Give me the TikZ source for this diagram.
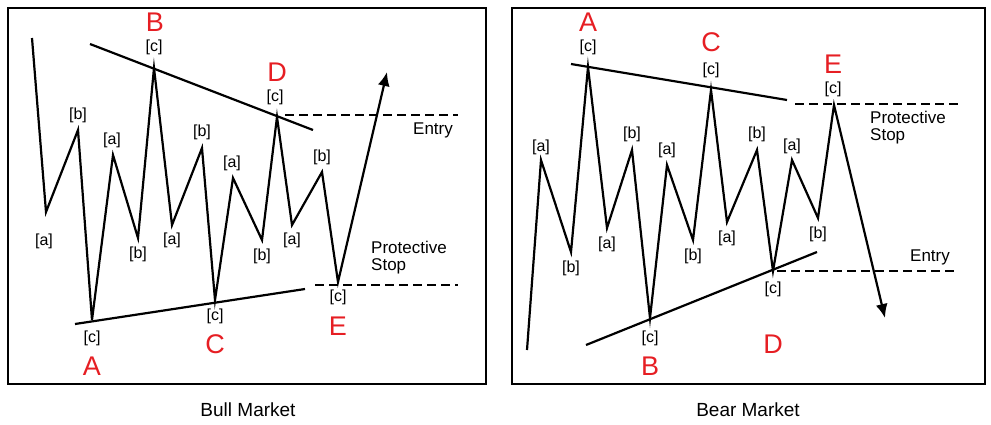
\documentclass[tikz,border=0pt]{standalone}
\usepackage{fontspec}
\setmainfont{Liberation Sans}
\usetikzlibrary{arrows.meta}
\definecolor{lred}{RGB}{230,30,35}
\begin{document}
\begin{tikzpicture}[x=1pt,y=-1pt,
  wave/.style={line width=2.2pt,line join=miter},
  trend/.style={line width=2.2pt},
  dline/.style={line width=2pt,dash pattern=on 9pt off 5pt},
  lab/.style={font=\fontsize{16}{16}\selectfont,inner sep=0pt},
  big/.style={font=\fontsize{27}{27}\selectfont,text=lred,inner sep=0pt},
  txt/.style={font=\fontsize{17}{17}\selectfont,inner sep=0pt,align=left},
  frame/.style={line width=2.2pt}]
\useasboundingbox (0,0) rectangle (991,424);
\draw[frame] (8,8) rectangle (486,384);
\draw[frame] (512,8) rectangle (985,384);
\node[font=\fontsize{19}{19}\selectfont] (cap1) at (248,410) {Bull Market};
\node[font=\fontsize{19}{19}\selectfont] (cap2) at (748,410) {Bear Market};
% left
\coordinate (L0) at (32,38);
\draw[wave,-{Latex[length=14pt,width=12pt]}] (L0) -- (46,212) -- (78,130) -- (92,320) -- (113,155) -- (138,238) -- (154,68) -- (172,225) -- (202,148) -- (215,300) -- (233,178) -- (262,240) -- (277,117) -- (292,225) -- (322,172) -- (338,282) -- (387,72);
\draw[trend] (90,44) -- (313,130);
\draw[trend] (75,324) -- (305,289);
\draw[dline] (285,115) -- (458,115);
\draw[dline] (315,285) -- (458,285);
\node[txt] (en1) at (433,130) {Entry};
\node[txt] (ps1) at (409,258) {Protective\\Stop};
\node[big] (B1) at (155,22) {B};
\node[big] (D1) at (277,72) {D};
\node[big] (A1) at (92,366) {A};
\node[big] (C1) at (215,344) {C};
\node[big] (E1) at (338,326) {E};
\foreach \x/\y/\t [count=\i] in {154/47/c,275/97/c,92/338/c,215/316/c,338/297/c,44/241/a,78/115/b,112/140/a,138/254/b,172/240/a,202/132/b,232/163/a,262/256/b,292/240/a,322/157/b}
  \node[lab] (l\i) at (\x,\y) {[\t]};
% right
\coordinate (R0) at (527,350);
\draw[wave,-{Latex[length=14pt,width=12pt]}] (R0) -- (541,160) -- (571,252) -- (588,67) -- (607,228) -- (632,150) -- (650,318) -- (667,165) -- (693,240) -- (711,90) -- (727,222) -- (757,150) -- (773,271) -- (792,160) -- (818,218) -- (834,105) -- (885,318);
\draw[trend] (571,64) -- (787,100);
\draw[trend] (586,345) -- (817,252);
\draw[dline] (795,104) -- (958,104);
\draw[dline] (777,271) -- (958,271);
\node[txt] (ps2) at (908,128) {Protective\\Stop};
\node[txt] (en2) at (930,257) {Entry};
\node[big] (A2) at (588,22) {A};
\node[big] (C2) at (711,42) {C};
\node[big] (E2) at (833,64) {E};
\node[big] (B2) at (650,366) {B};
\node[big] (D2) at (773,344) {D};
\foreach \x/\y/\t [count=\i] in {588/47/c,711/70/c,833/89/c,650/338/c,773/289/c,541/147/a,571/268/b,607/244/a,632/134/b,667/150/a,693/256/b,727/238/a,757/134/b,792/146/a,818/234/b}
  \node[lab] (r\i) at (\x,\y) {[\t]};
\end{tikzpicture}
\end{document}
